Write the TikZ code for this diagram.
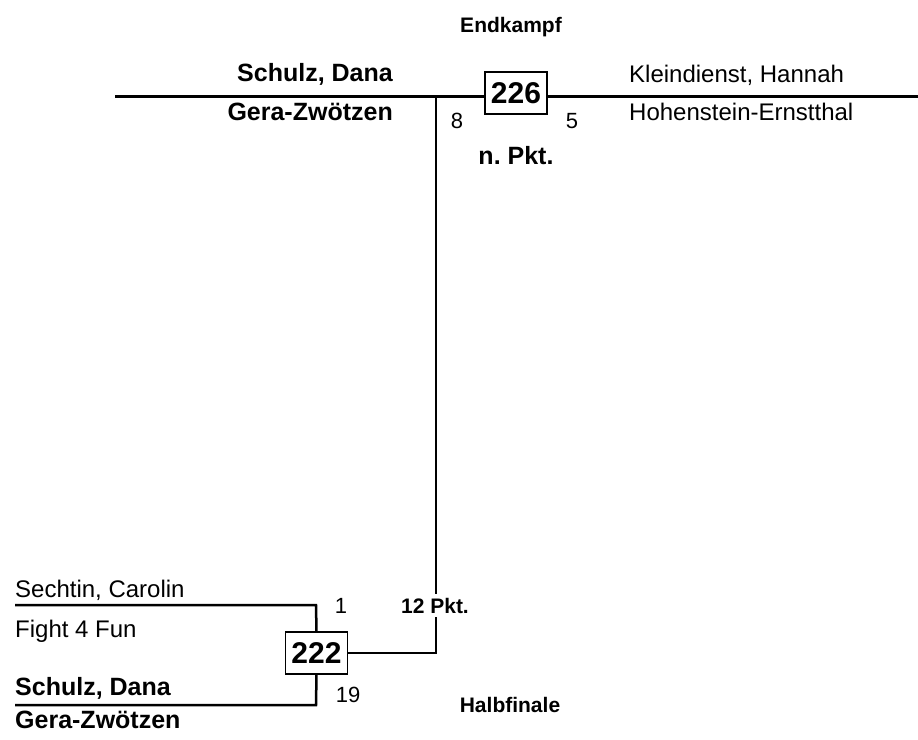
\documentclass[tikz,border=0pt]{standalone}
\usepackage{fontspec}
\setmainfont{Liberation Sans}
\usetikzlibrary{positioning}

\begin{document}
\begin{tikzpicture}[x=1pt, y=-1pt,
fighter/.style={inner sep=0, font=\fontsize{24}{28}\selectfont},
winner/.style={inner sep=0, font=\bfseries\fontsize{25}{29}\selectfont},
score/.style={inner sep=0, font=\fontsize{22}{26}\selectfont},
note/.style={inner sep=0, font=\bfseries\fontsize{21}{25}\selectfont},
matchbox/.style={rectangle, draw=black, fill=white, line width=1.2pt, inner sep=0,
  minimum width=62, minimum height=42, font=\bfseries\fontsize{30}{34}\selectfont},
heavy/.style={line width=3pt},
bracket/.style={line width=2.5pt}
]
\useasboundingbox (0,0) rectangle (918,739);

%Coordinates
\coordinate (topL)  at (115,96);
\coordinate (topR)  at (918,96);
\coordinate (join)  at (436,96);
\coordinate (sA)    at (15,605);
\coordinate (sAc)   at (316,605);
\coordinate (sB)    at (15,705);
\coordinate (sBc)   at (316,705);

%Final line
\draw[heavy] (topL) -- (topR);

%Nodes
\node[matchbox]    (M226)   at (516,93)   {226};
\node[matchbox]    (M222)   at (316.5,653) {222};

\node[note, anchor=base]        (final)  at (511,32)   {Endkampf};
\node[winner, anchor=base east] (winA)   at (393,81)   {Schulz, Dana};
\node[winner, anchor=base east] (winAc)  at (393,120)  {Gera-Zwötzen};
\node[fighter, anchor=base west] (oppA)  at (629,82)   {Kleindienst, Hannah};
\node[fighter, anchor=base west] (oppAc) at (629,120)  {Hohenstein-Ernstthal};
\node[score, anchor=base]       (ptA)    at (457,128)  {8};
\node[score, anchor=base]       (ptB)    at (572,128)  {5};
\node[winner, anchor=base]      (resF)   at (516,164)  {n.\ Pkt.};

\node[fighter, anchor=base west] (semA)  at (15,597)   {Sechtin, Carolin};
\node[fighter, anchor=base west] (semAc) at (15,637)   {Fight 4 Fun};
\node[winner, anchor=base west]  (semB)  at (15,695)   {Schulz, Dana};
\node[winner, anchor=base west]  (semBc) at (15,728)   {Gera-Zwötzen};
\node[score, anchor=base]        (ptC)   at (341,613)  {1};
\node[score, anchor=base]        (ptD)   at (348,702)  {19};
\node[note, anchor=base]         (semi)  at (510,712)  {Halbfinale};

%Lines
\draw[bracket] (sA) -- (sAc) -- (M222.north);
\draw[bracket] (sB) -- (sBc) -- (M222.south);
\draw[line width=2pt] (M222.east) -| (join);
\node[note, anchor=base, fill=white, inner ysep=4pt, inner xsep=1pt] (resS) at (435,613) {12 Pkt.};
\end{tikzpicture}
\end{document}
